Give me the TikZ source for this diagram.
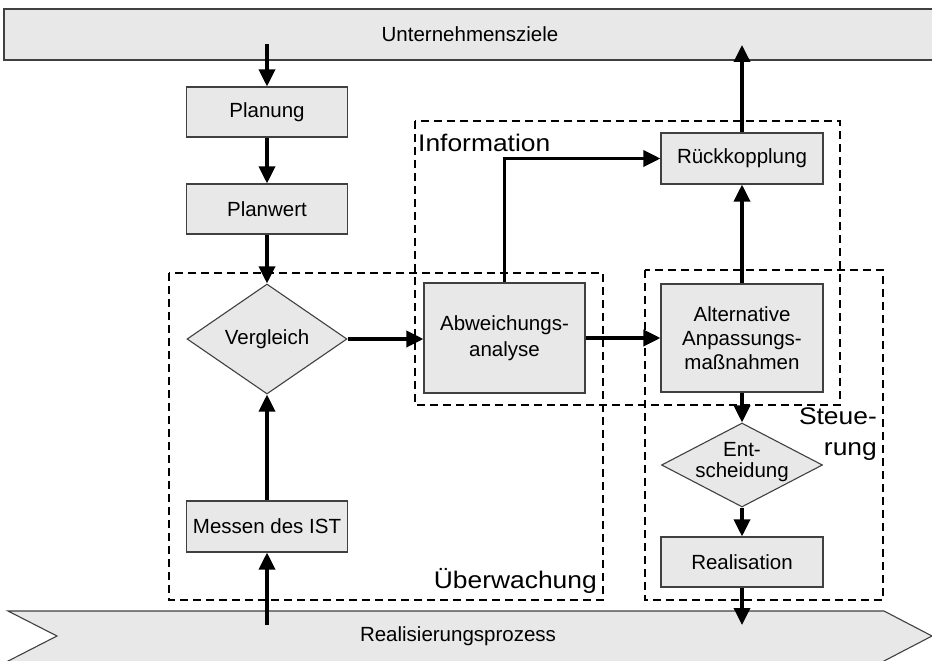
\documentclass[tikz,border=0pt]{standalone}
\usepackage{fontspec}
\setmainfont{Liberation Sans}
\newfontfamily\labelfont[FakeStretch=1.1]{Liberation Sans}
\usetikzlibrary{arrows.meta,shapes.geometric,calc}
\definecolor{boxfill}{HTML}{E8E8E8}
\definecolor{boxline}{HTML}{404040}
\tikzset{
  boxfont/.style={font=\fontsize{20.5}{24}\selectfont},
  box/.style={draw=boxline, line width=1.1pt, fill=boxfill, minimum width=161pt,
    minimum height=50pt, inner sep=0pt, align=center, boxfont},
  dia/.style={diamond, draw=boxline, line width=1.1pt, fill=boxfill, inner sep=0pt,
    boxfont},
  txt/.style={inner sep=0pt, align=center, boxfont},
  arr/.style={line width=3.5pt, -{Triangle[length=17pt,width=16pt]}},
  zone/.style={draw=black, line width=2pt, dash pattern=on 8pt off 5pt},
  zonelabel/.style={inner sep=0pt, font=\labelfont\fontsize{24}{31}\selectfont},
  bar/.style={draw=boxline, line width=1.1pt, fill=boxfill}
}
\begin{document}
\begin{tikzpicture}[x=1pt,y=-1pt]
\useasboundingbox (0,0) rectangle (932,661);
% bars
\node[bar, minimum width=932pt, minimum height=51pt, inner sep=0pt, boxfont] (ziele) at (470,34.5) {Unternehmensziele};
\draw[bar] (8,611) -- (884,611) -- (932,636) -- (874.4,666) -- (-1.6,666) -- (57,636) -- cycle;
\node[txt] (proz) at (458,636) {Realisierungsprozess};
% zones
\draw[zone] (169,273) rectangle (603,600);
\draw[zone] (415,121) rectangle (840,405);
\draw[zone] (645,270) rectangle (883,600);
% nodes
\node[box] (planung) at (267,112) {Planung};
\node[box] (planwert) at (267,209) {Planwert};
\node[dia, minimum width=160pt, minimum height=110pt] (verg) at (267,339) {Vergleich};
\node[box, minimum height=51pt] (messen) at (267,526.5) {Messen des IST};
\node[box, minimum height=110pt, font=\fontsize{20.5}{26}\selectfont] (abw) at (504.5,338) {Abweichungs-\\analyse};
\node[box, minimum width=162pt, minimum height=108pt] (alt) at (742,338) {Alternative\\Anpassungs-\\maßnahmen};
\node[box, minimum width=162pt, minimum height=51pt] (rueck) at (742,158.5) {Rückkopplung};
\node[dia, minimum width=161pt, minimum height=84pt] (ent) at (742,465) {};
\node[txt, font=\fontsize{20.5}{20.5}\selectfont] (entt) at (742,462) {Ent-\\scheidung};
\node[box, minimum width=162pt] (real) at (742,562) {Realisation};
% zone labels
\node[zonelabel, anchor=base east] (luew) at (597,588) {Überwachung};
\node[zonelabel, anchor=base west] (linf) at (418,151) {Information};
\node[zonelabel, anchor=north east, align=right] (lst) at (877,408) {Steue-\\rung};
% coordinates
\coordinate (zin) at (267,44);
\coordinate (zout) at (742,45);
\coordinate (pin) at (267,625);
\coordinate (pout) at (742,625);
% connectors
\draw[arr] (zin) -- (planung.north);
\draw[arr] (planung.south) -- (planwert.north);
\draw[arr] (planwert.south) -- (verg.north);
\draw[arr] (messen.north) -- (verg.south);
\draw[arr] (pin) -- (messen.south);
\draw[arr] (verg.east) -- (verg.east -| abw.west);
\draw[arr] (abw.east) -- (alt.west);
\draw[arr] (abw.north) |- (rueck.west);
\draw[arr] (alt.north) -- (rueck.south);
\draw[arr] (rueck.north) -- (zout);
\draw[arr] (alt.south) -- (ent.north);
\draw[arr] (ent.south) -- (real.north);
\draw[arr] (real.south) -- (pout);
\end{tikzpicture}
\end{document}
